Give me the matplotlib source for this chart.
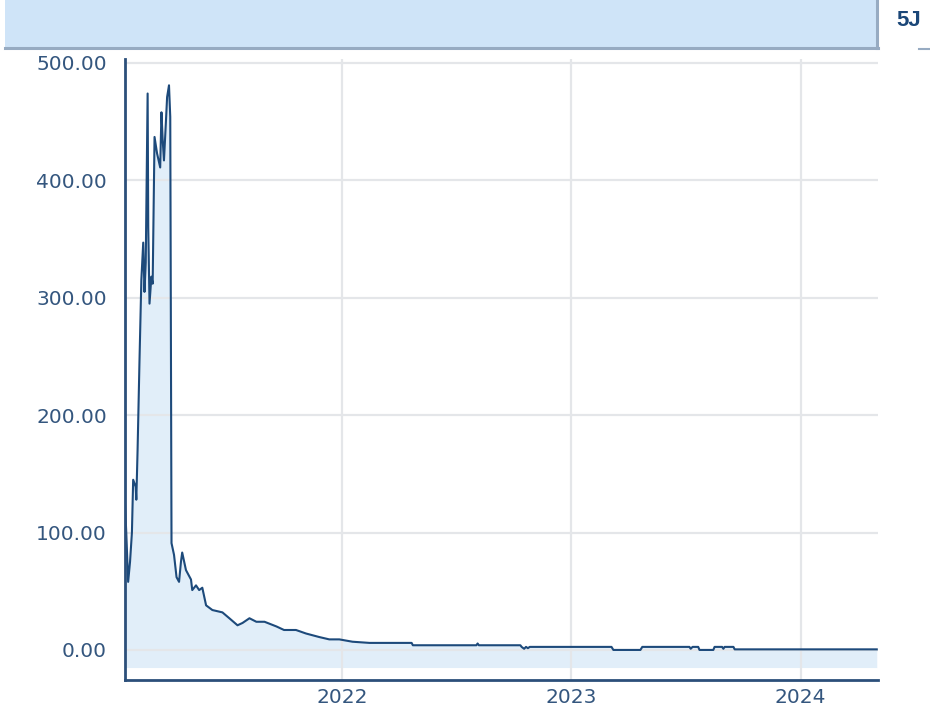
import pandas as pd
import numpy as np
import matplotlib
matplotlib.use("Agg")
import matplotlib.pyplot as plt
import matplotlib.dates as mdates
from matplotlib.patches import Rectangle
from matplotlib.lines import Line2D

# price history
dates = [
    "2021-01-21", "2021-01-23", "2021-01-26", "2021-01-29", "2021-02-01", "2021-02-03",
    "2021-02-07", "2021-02-08", "2021-02-10", "2021-02-13", "2021-02-16", "2021-02-19",
    "2021-02-21", "2021-02-23", "2021-02-26", "2021-02-27", "2021-03-01", "2021-03-04",
    "2021-03-06", "2021-03-09", "2021-03-13", "2021-03-18", "2021-03-20", "2021-03-22",
    "2021-03-24", "2021-03-27", "2021-03-29", "2021-04-01", "2021-04-03", "2021-04-05",
    "2021-04-09", "2021-04-13", "2021-04-17", "2021-04-20", "2021-04-22", "2021-04-28",
    "2021-05-06", "2021-05-08", "2021-05-14", "2021-05-19", "2021-05-24", "2021-05-30",
    "2021-06-09", "2021-06-25", "2021-07-06", "2021-07-19", "2021-07-27", "2021-08-07",
    "2021-08-18", "2021-08-31", "2021-09-19", "2021-10-01", "2021-10-20", "2021-11-05",
    "2021-11-26", "2021-12-12", "2021-12-28", "2022-01-18", "2022-02-14", "2022-03-07",
    "2022-04-02", "2022-04-22", "2022-04-24", "2022-08-03", "2022-08-05", "2022-08-07",
    "2022-10-12", "2022-10-14", "2022-10-18", "2022-10-21", "2022-10-24", "2022-10-27",
    "2023-03-06", "2023-03-09", "2023-04-21", "2023-04-24", "2023-07-08", "2023-07-10",
    "2023-07-13", "2023-07-22", "2023-07-24", "2023-08-15", "2023-08-17", "2023-08-29",
    "2023-08-31", "2023-09-02", "2023-09-16", "2023-09-18", "2024-05-01",
]
prices = [
    125, 100, 58, 75, 100, 145,
    139, 128, 170, 245, 315, 347,
    305, 330, 474, 360, 295, 318,
    312, 437, 423, 411, 458, 434,
    417, 449, 471, 481, 454, 91,
    81, 62, 58, 75, 83, 68,
    60, 51, 55, 51, 53, 38,
    34, 32, 27, 21, 23, 27,
    24, 24, 20, 17, 17, 14,
    11, 9, 9, 7, 6, 6,
    6, 6, 4, 4, 5.5, 4,
    4, 2.6, 1.0, 2.6, 1.5, 2.6,
    2.6, 0, 0, 2.6, 2.6, 1.0,
    2.6, 2.6, 0, 0, 2.6, 2.6,
    1.0, 2.6, 2.6, 0.5, 0.5,
]
yticks = [0, 100, 200, 300, 400, 500]
badge_text = "5J"

df = pd.DataFrame({"date": pd.to_datetime(dates), "price": prices})

line_color = "#1d4a7b"
fill_color = "#e1eef9"
axis_color = "#2c4f7a"
label_color = "#34567e"

W, H = 930, 707
fig = plt.figure(figsize=(W / 100, H / 100), dpi=100)

# header band and badge
fig.patches.append(Rectangle((5 / W, 1 - 47 / H), 872 / W, 47 / H,
                             transform=fig.transFigure, facecolor="#cfe4f8",
                             edgecolor="none", zorder=0))
fig.lines.append(Line2D([5 / W, 878 / W], [1 - 47.5 / H, 1 - 47.5 / H],
                        transform=fig.transFigure, color="#97abc2", lw=2.2))
fig.lines.append(Line2D([877 / W, 877 / W], [1 - 48 / H, 1], transform=fig.transFigure,
                        color="#97abc2", lw=2.2))
fig.lines.append(Line2D([919 / W, 930 / W], [1 - 49 / H, 1 - 49 / H],
                        transform=fig.transFigure, color="#97abc2", lw=1.5))
fig.text(909 / W, 1 - 21 / H, badge_text, ha="center", va="center",
         fontsize=16, fontweight="bold", color="#1b4778", family="Liberation Sans")

ax = fig.add_axes([125 / W, (H - 680) / H, (878 - 125) / W, (680 - 59) / H])

ax.fill_between(df["date"], df["price"], -15, color=fill_color, lw=0, zorder=1)
ax.plot(df["date"], df["price"], color=line_color, lw=1.5, zorder=3)

ax.set_ylim(-25.6, 503.4)
ax.set_xlim(pd.Timestamp("2021-01-21"), pd.Timestamp("2024-05-03"))
ax.set_yticks(yticks)
ax.yaxis.set_major_formatter(plt.FuncFormatter(lambda v, p: f"{v:.2f}"))
ax.xaxis.set_major_locator(mdates.YearLocator())
ax.xaxis.set_major_formatter(mdates.DateFormatter("%Y"))

ax.set_axisbelow(False)
ax.grid(True, color="#e4e6e9", lw=1.6, zorder=2)
for side in ["top", "right"]:
    ax.spines[side].set_visible(False)
for side in ["left", "bottom"]:
    ax.spines[side].set_color(axis_color)
    ax.spines[side].set_linewidth(2)
    ax.spines[side].set_zorder(4)
ax.tick_params(length=0, labelsize=14.5, labelcolor=label_color)
ax.tick_params(axis="y", pad=13)
ax.tick_params(axis="x", pad=6)

fig.savefig("out.png", dpi=100)
